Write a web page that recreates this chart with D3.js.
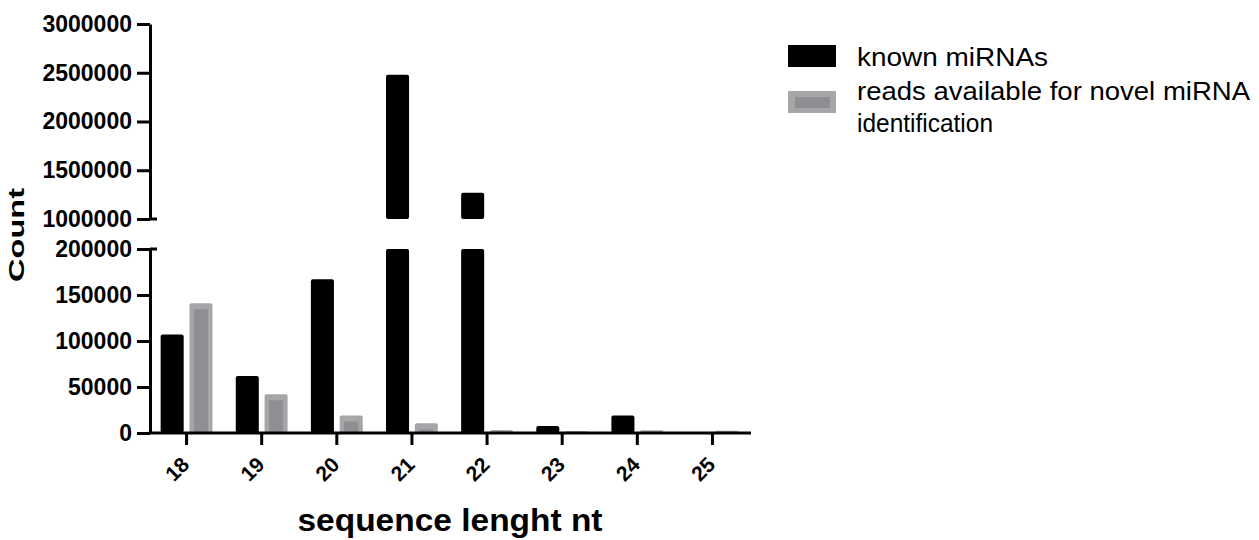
<!DOCTYPE html>
<meta charset="utf-8">
<style>
body {
  margin: 0;
  background: #fff;
}
text {
  font-family: 'Liberation Sans', Arial, sans-serif;
}
.axis path, .axis line {
  stroke: #000;
  stroke-width: 3px;
}
.axis text {
  font-size: 23px;
  font-weight: bold;
  fill: #000;
}
</style>
<body>
<div class="viz"></div>
<script src="https://cdn.jsdelivr.net/npm/d3@7"></script>
<script>

var lengths = ["18", "19", "20", "21", "22", "23", "24", "25"];
var knownMiRNAs = [107000, 62000, 167000, 2480000, 1270000, 7500, 19000, 300];
var novelReads = [141000, 42000, 19000, 10500, 3300, 2000, 3000, 2500];
var lowTicks = [0, 50000, 100000, 150000, 200000];
var highTicks = [1000000, 1500000, 2000000, 2500000, 3000000];
var seriesNames = ["known miRNAs", "reads available for novel miRNA identification"];

var width = 1259, height = 540;

var data = lengths.map(function(l, i) {
  return {len: l, known: knownMiRNAs[i], novel: novelReads[i]};
});

var svg = d3.select(".viz").append("svg")
    .attr("width", width)
    .attr("height", height);

var axisX = 150;

var x0 = d3.scaleBand()
    .domain(lengths)
    .range([149, 750])
    .paddingInner(0.31)
    .paddingOuter(0.155);

var x1 = d3.scaleBand()
    .domain(["known", "novel"])
    .range([0, x0.bandwidth()])
    .paddingInner(0.2);

// broken y axis: two segments
var yLow = d3.scaleLinear().domain([0, 200000]).range([433, 249]);
var yHigh = d3.scaleLinear().domain([1000000, 3000000]).range([219, 24]);

function barSegments(v) {
  var segs = [{top: yLow(Math.min(v, 200000)), bottom: yLow(0)}];
  if (v > 1000000) segs.push({top: yHigh(v), bottom: yHigh(1000000)});
  return segs;
}

// known miRNAs (black)
data.forEach(function(d) {
  barSegments(d.known).forEach(function(s) {
    svg.append("rect")
      .attr("x", x0(d.len) + x1("known"))
      .attr("y", s.top)
      .attr("width", x1.bandwidth())
      .attr("height", s.bottom - s.top)
      .attr("rx", 2)
      .style("fill", "#000");
  });
});

// novel reads (grey, with darker inner)
data.forEach(function(d) {
  var bx = x0(d.len) + x1("novel");
  var top = yLow(d.novel), bottom = yLow(0);
  svg.append("rect")
    .attr("x", bx)
    .attr("y", top)
    .attr("width", x1.bandwidth())
    .attr("height", bottom - top)
    .attr("rx", 2)
    .style("fill", "#a6a6a8");
  var ih = bottom - top - 6;
  if (ih > 0) {
    svg.append("rect")
      .attr("x", bx + 4.5)
      .attr("y", top + 6)
      .attr("width", x1.bandwidth() - 9)
      .attr("height", ih)
      .style("fill", "#8f8e93");
  }
});

// y axes
svg.append("g")
    .attr("class", "axis")
    .attr("transform", "translate(" + axisX + ",0)")
    .call(d3.axisLeft(yLow).tickValues(lowTicks).tickSize(13).tickSizeOuter(0).tickPadding(5).tickFormat(d3.format("d")));

svg.append("g")
    .attr("class", "axis")
    .attr("transform", "translate(" + axisX + ",0)")
    .call(d3.axisLeft(yHigh).tickValues(highTicks).tickSize(13).tickSizeOuter(0).tickPadding(5).tickFormat(d3.format("d")));

// break caps
[yLow(200000), yHigh(1000000)].forEach(function(yy) {
  svg.append("line")
    .attr("x1", axisX)
    .attr("x2", axisX + 7)
    .attr("y1", yy)
    .attr("y2", yy)
    .attr("stroke", "#000")
    .attr("stroke-width", 3);
});

// x axis
var xAxis = svg.append("g")
    .attr("class", "axis")
    .attr("transform", "translate(0," + yLow(0) + ")")
    .call(d3.axisBottom(x0).tickSize(12).tickSizeOuter(0));

xAxis.select(".domain").attr("d", "M" + (axisX - 1.5) + ",0H751");

xAxis.selectAll("text")
    .attr("x", 0)
    .attr("y", 0)
    .attr("dy", 0)
    .attr("transform", "translate(4,33) rotate(-45)")
    .style("text-anchor", "end")
    .style("font-size", "21px");

// axis titles
svg.append("text")
    .attr("transform", "translate(24,235) rotate(-90)")
    .style("text-anchor", "middle")
    .style("font-size", "22px")
    .style("font-weight", "bold")
    .attr("textLength", 94)
    .attr("lengthAdjust", "spacingAndGlyphs")
    .text("Count");

svg.append("text")
    .attr("x", 450)
    .attr("y", 531)
    .style("text-anchor", "middle")
    .style("font-size", "32px")
    .style("font-weight", "bold")
    .attr("textLength", 305)
    .attr("lengthAdjust", "spacingAndGlyphs")
    .text("sequence lenght nt");

// legend
var legend = svg.append("g").attr("class", "legend");

legend.append("rect")
    .attr("x", 788).attr("y", 45)
    .attr("width", 48).attr("height", 22)
    .style("fill", "#000");

legend.append("rect")
    .attr("x", 788).attr("y", 91)
    .attr("width", 48).attr("height", 22)
    .style("fill", "#a6a6a8");
legend.append("rect")
    .attr("x", 795).attr("y", 97)
    .attr("width", 35).attr("height", 11)
    .style("fill", "#8f8e93");

legend.append("text")
    .attr("x", 857).attr("y", 66)
    .style("font-size", "26px")
    .attr("textLength", 191)
    .attr("lengthAdjust", "spacingAndGlyphs")
    .text(seriesNames[0]);

var words = seriesNames[1].split(" ");
legend.append("text")
    .attr("x", 857).attr("y", 100)
    .style("font-size", "26px")
    .attr("textLength", 393)
    .attr("lengthAdjust", "spacingAndGlyphs")
    .text(words.slice(0, 5).join(" "));
legend.append("text")
    .attr("x", 857).attr("y", 132)
    .style("font-size", "26px")
    .attr("textLength", 136)
    .attr("lengthAdjust", "spacingAndGlyphs")
    .text(words.slice(5).join(" "));

</script>
</body>
